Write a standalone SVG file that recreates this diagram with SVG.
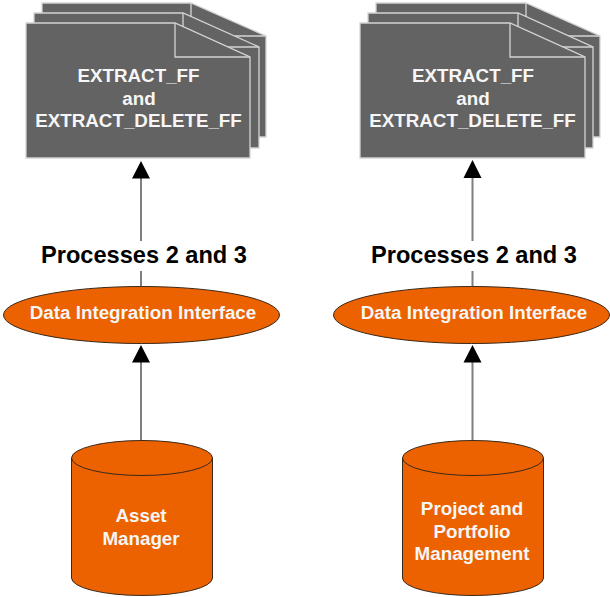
<svg xmlns="http://www.w3.org/2000/svg" width="610" height="597" viewBox="0 0 610 597">
<style>
.doc{fill:#636363;stroke:#d4d4d4;stroke-width:1.3}
.fold{fill:none;stroke:#d4d4d4;stroke-width:1.3}
.org{fill:#ec6100;stroke:#3a2a1a;stroke-width:1}
.line{fill:none;stroke:#7f7f7f;stroke-width:2}
.head{fill:#000}
text{font-family:"Liberation Sans",Arial,sans-serif;font-weight:700;text-anchor:middle}
.w{fill:#f6f6f6;font-size:18.800px}
.t{fill:#000;font-size:23.600px}
</style>
<rect width="610" height="597" fill="#fff"/>
<g id="connectors">
<path class="line" d="M141 176V241M141 271V288M141 360V441"/>
<path class="head" d="M141 161L150 178.500H132Z M141 345L150 362.500H132Z"/>
<path class="line" d="M472.500 176V241M472.500 271V288M472.500 360V441"/>
<path class="head" d="M472.500 160L481.500 178H463.500Z M472.500 345L481.500 362.500H463.500Z"/>
</g>
<g id="docs-left">
<path class="doc" d="M42 3H191L266 36V137H42Z"/><path class="fold" d="M191 3V36H266"/>
<path class="doc" d="M34 13H183L259 47V148H34Z"/><path class="fold" d="M183 13V47H259"/>
<path class="doc" d="M26 23H175L250 57V158H26Z"/><path class="fold" d="M175 23V57H250"/>
<text class="w" x="138.500" y="82">EXTRACT_FF</text>
<text class="w" x="139" y="105">and</text>
<text class="w" x="138.500" y="127">EXTRACT_DELETE_FF</text>
</g>
<g id="docs-right">
<path class="doc" d="M376 3H526L600 36V137H376Z"/><path class="fold" d="M526 3V36H600"/>
<path class="doc" d="M368 13H518L593 47V148H368Z"/><path class="fold" d="M518 13V47H593"/>
<path class="doc" d="M360 23H510L585 57V158H360Z"/><path class="fold" d="M510 23V57H585"/>
<text class="w" x="473" y="82">EXTRACT_FF</text>
<text class="w" x="473" y="105">and</text>
<text class="w" x="472.500" y="127">EXTRACT_DELETE_FF</text>
</g>
<g id="label-left"><text class="t" x="144" y="262.500">Processes 2 and 3</text></g>
<g id="label-right"><text class="t" x="474" y="262.500">Processes 2 and 3</text></g>
<g id="interface-left">
<ellipse class="org" cx="141.500" cy="315" rx="138" ry="28.500"/>
<text class="w" x="143" y="319">Data Integration Interface</text>
</g>
<g id="interface-right">
<ellipse class="org" cx="471.500" cy="315" rx="138" ry="28.500"/>
<text class="w" x="474" y="319">Data Integration Interface</text>
</g>
<g id="asset-manager">
<path class="org" d="M71.500 458V578A70.500 17.500 0 0 0 212.500 578V458A70.500 17.500 0 0 0 71.500 458Z"/>
<path class="org" style="fill:none" d="M71.500 458A70.500 17.500 0 0 0 212.500 458"/>
<text class="w" x="141" y="522">Asset</text>
<text class="w" x="141" y="545">Manager</text>
</g>
<g id="ppm">
<path class="org" d="M402.500 458V578A70.500 17.500 0 0 0 543.500 578V458A70.500 17.500 0 0 0 402.500 458Z"/>
<path class="org" style="fill:none" d="M402.500 458A70.500 17.500 0 0 0 543.500 458"/>
<text class="w" x="472" y="515">Project and</text>
<text class="w" x="472" y="538">Portfolio</text>
<text class="w" x="472" y="560">Management</text>
</g>
</svg>
